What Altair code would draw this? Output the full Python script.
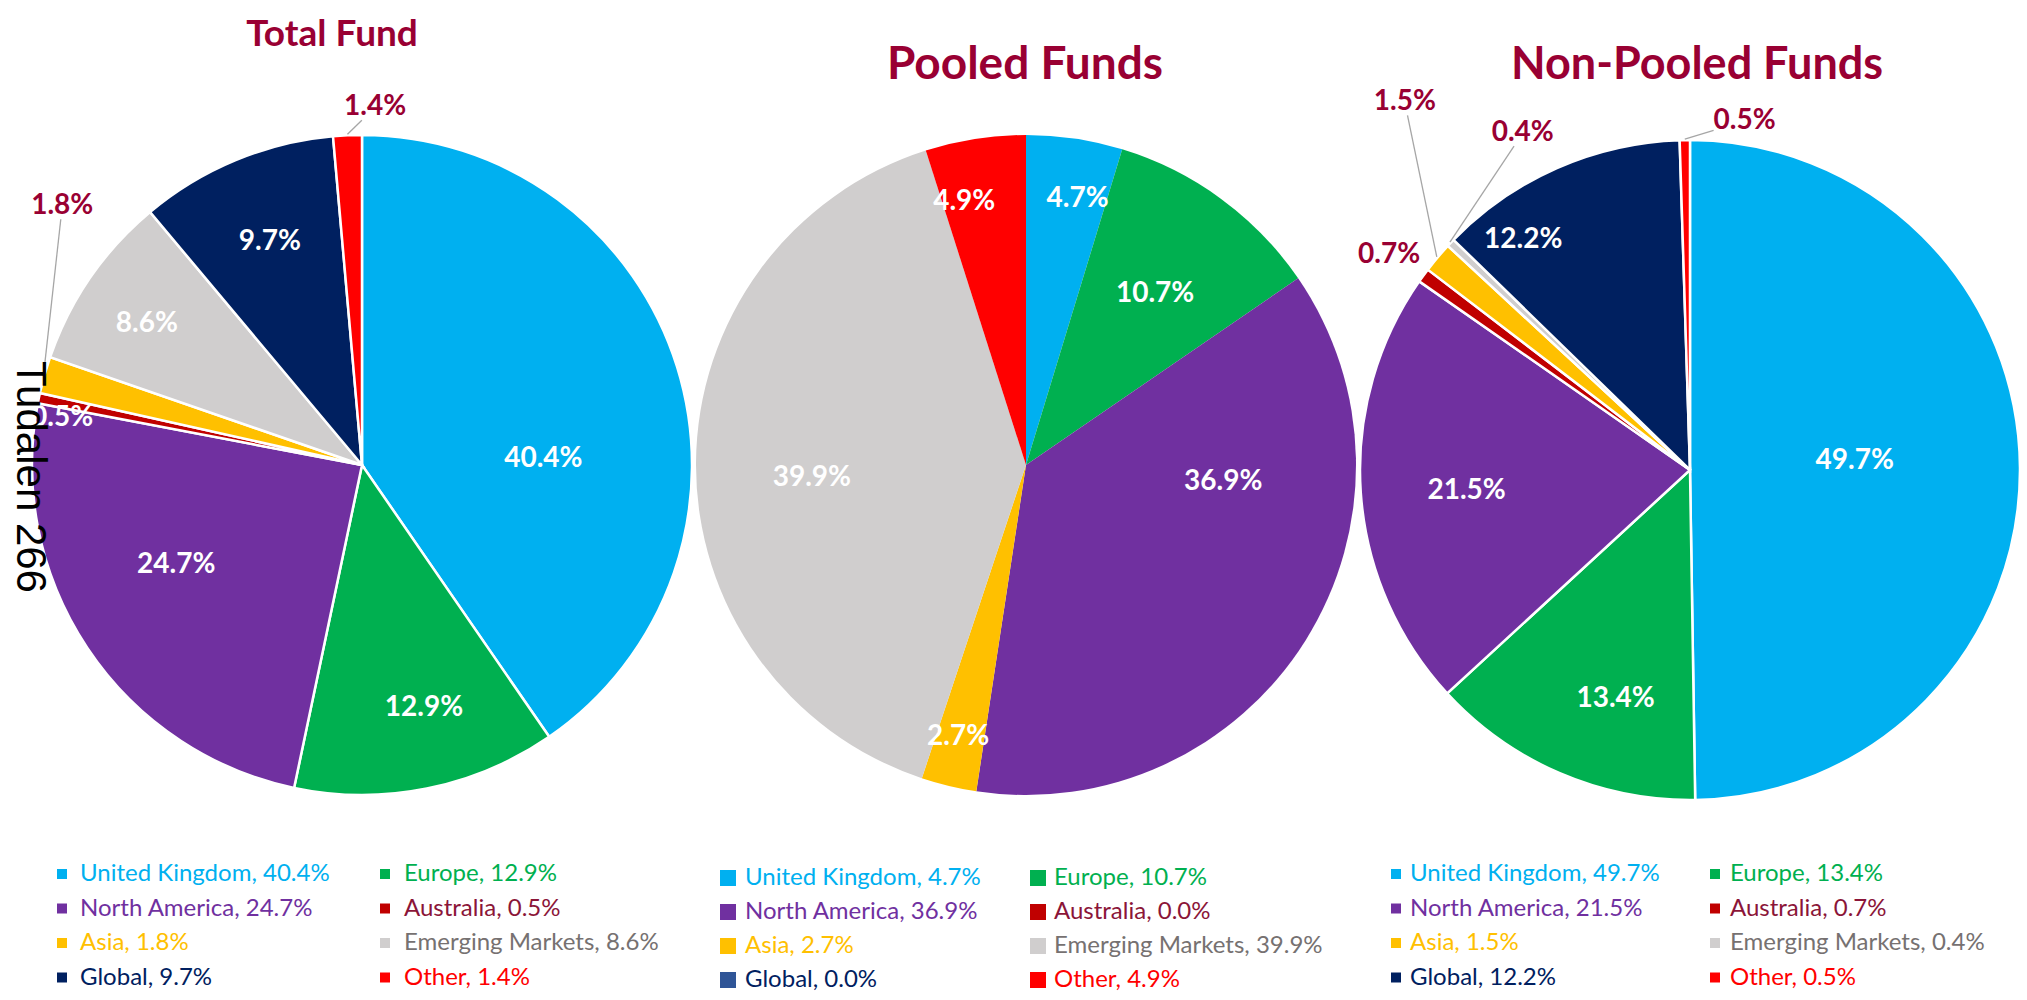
import math
import altair as alt
import pandas as pd

# ---------------- data ----------------
FUNDS = ["Total Fund", "Pooled Funds", "Non-Pooled Funds"]
REGIONS = ["United Kingdom", "Europe", "North America", "Australia",
           "Asia", "Emerging Markets", "Global", "Other"]
TOTAL_FUND = [40.4, 12.9, 24.7, 0.5, 1.8, 8.6, 9.7, 1.4]
POOLED_FUNDS = [4.7, 10.7, 36.9, 0.0, 2.7, 39.9, 0.0, 4.9]
NON_POOLED_FUNDS = [49.7, 13.4, 21.5, 0.7, 1.5, 0.4, 12.2, 0.5]
SIDE_NOTE = "Tudalen 266"

# ---------------- styles ----------------
SLICE_COLORS = ["#00B0F0", "#00B050", "#7030A0", "#C00000",
                "#FFC000", "#D0CECE", "#002060", "#FF0000"]
LEGEND_TEXT_COLORS = ["#00B0F0", "#00B050", "#7030A0", "#8B1538",
                      "#FFC000", "#767171", "#002060", "#FF0000"]
TITLE_COLOR = "#990033"
FONT = "Lato"

# ---------------- layout (page pixels) ----------------
OFF = 8
R = 330
CENTER = {"Total Fund": (362, 465), "Pooled Funds": (1026, 465),
          "Non-Pooled Funds": (1690, 470)}
TITLE_POS = {"Total Fund": (332, 35), "Pooled Funds": (1025, 65),
             "Non-Pooled Funds": (1697, 65)}
TITLE_SIZE = {"Total Fund": 37, "Pooled Funds": 46, "Non-Pooled Funds": 45}
BORDER = {"Total Fund": 2.5, "Pooled Funds": 0, "Non-Pooled Funds": 2.5}
# legend: (marker x col1, text x col1, marker x col2, text x col2, first row y, row gap, marker side)
LEGEND = {"Total Fund": (62, 80, 385, 404, 874, 34.5, 10),
          "Pooled Funds": (728, 745, 1038, 1054, 878, 34, 16),
          "Non-Pooled Funds": (1396, 1410, 1715, 1730, 874, 34.5, 10)}
# label placement: (angle deg clockwise from 12 o'clock, radius fraction, kind)
LABEL_PLACE = {
    ("Total Fund", "United Kingdom"): (88, 0.55, "in"),
    ("Total Fund", "Europe"): (165.7, 0.76, "in"),
    ("Total Fund", "North America"): (241.6, 0.64, "in"),
    ("Total Fund", "Australia"): (279, 0.92, "in"),
    ("Total Fund", "Asia"): (310.8, 1.2, "out"),
    ("Total Fund", "Emerging Markets"): (303.3, 0.78, "in"),
    ("Total Fund", "Global"): (337.5, 0.73, "in"),
    ("Total Fund", "Other"): (2.1, 1.085, "out"),
    ("Pooled Funds", "United Kingdom"): (11, 0.82, "in"),
    ("Pooled Funds", "Europe"): (37, 0.65, "in"),
    ("Pooled Funds", "North America"): (95, 0.6, "in"),
    ("Pooled Funds", "Asia"): (194, 0.85, "in"),
    ("Pooled Funds", "Emerging Markets"): (266.5, 0.65, "in"),
    ("Pooled Funds", "Other"): (346.8, 0.82, "in"),
    ("Non-Pooled Funds", "United Kingdom"): (87, 0.5, "in"),
    ("Non-Pooled Funds", "Europe"): (198, 0.73, "in"),
    ("Non-Pooled Funds", "North America"): (264.7, 0.68, "in"),
    ("Non-Pooled Funds", "Global"): (324, 0.86, "in"),
    ("Non-Pooled Funds", "Australia"): (305.5, 1.12, "out"),
    ("Non-Pooled Funds", "Asia"): (322.2, 1.41, "out"),
    ("Non-Pooled Funds", "Emerging Markets"): (333.6, 1.14, "out"),
    ("Non-Pooled Funds", "Other"): (8.9, 1.07, "out"),
}

series = dict(zip(FUNDS, [TOTAL_FUND, POOLED_FUNDS, NON_POOLED_FUNDS]))

slice_rows, label_rows, leader_rows, legend_rows, title_rows = [], [], [], [], []
for fund in FUNDS:
    vals = series[fund]
    tot = sum(vals)
    cx, cy = CENTER[fund]
    cum = 0.0
    for i, (reg, v) in enumerate(zip(REGIONS, vals)):
        start = cum / tot
        cum += v
        end = cum / tot
        mid = (start + end) / 2
        slice_rows.append(dict(fund=fund, region=reg, value=v, start=start, end=end,
                               cx=cx - OFF, cy=cy - OFF))
        if v > 0:
            if (fund, reg) in LABEL_PLACE:
                adeg, rf, kind = LABEL_PLACE[(fund, reg)]
                afrac = adeg / 360.0
            else:
                afrac = mid
                rf = 0.72
                kind = "in"
            label_rows.append(dict(fund=fund, region=reg, text=f"{v:.1f}%", kind=kind,
                                   la=afrac, lr=rf * R, cx=cx - OFF, cy=cy - OFF))
            if kind == "out":
                ang = mid * 2 * math.pi
                ex, ey = cx + (R + 1) * math.sin(ang), cy - (R + 1) * math.cos(ang)
                a2 = afrac * 2 * math.pi
                lx, ly = cx + rf * R * math.sin(a2), cy - rf * R * math.cos(a2)
                dx, dy = ex - lx, ey - ly
                dist = math.hypot(dx, dy)
                ux, uy = dx / dist, dy / dist
                t = min(31 / max(abs(ux), 1e-6), 13 / max(abs(uy), 1e-6))
                if dist - t > 20:
                    leader_rows.append(dict(x1=ex - OFF, y1=ey - OFF,
                                            x2=lx + t * ux - OFF, y2=ly + t * uy - OFF))
        mx1, tx1, mx2, tx2, y0, gap, side = LEGEND[fund]
        row, col = divmod(i, 2)
        mcol = SLICE_COLORS[i]
        if fund == "Pooled Funds" and reg == "Global":
            mcol = "#2F5597"
        legend_rows.append(dict(fund=fund, text=f"{reg}, {v:.1f}%",
                                mx=(mx1 if col == 0 else mx2) - OFF,
                                tx=(tx1 if col == 0 else tx2) - OFF,
                                y=y0 + row * gap - OFF, side=side * side,
                                mcolor=mcol, tcolor=LEGEND_TEXT_COLORS[i]))
    tx, ty = TITLE_POS[fund]
    title_rows.append(dict(text=fund, x=tx - OFF, y=ty - OFF, size=TITLE_SIZE[fund]))

slices = pd.DataFrame(slice_rows)
labels = pd.DataFrame(label_rows)
leaders = pd.DataFrame(leader_rows)
legend = pd.DataFrame(legend_rows)
titles = pd.DataFrame(title_rows)
note = pd.DataFrame([dict(text=SIDE_NOTE, x=30 - OFF, y=477 - OFF)])

THETA = alt.Scale(domain=[0, 1], range=[0, 2 * math.pi])
color_scale = alt.Scale(domain=REGIONS, range=SLICE_COLORS)

def px(f):
    return alt.X(f"{f}:Q", scale=None, axis=None)

def py(f):
    return alt.Y(f"{f}:Q", scale=None, axis=None)

arc_layers = []
for fund in FUNDS:
    m = alt.Chart(slices).transform_filter(alt.datum.fund == fund)
    if BORDER[fund] > 0:
        mk = m.mark_arc(outerRadius=R, stroke="white", strokeWidth=BORDER[fund])
    else:
        mk = m.mark_arc(outerRadius=R, strokeWidth=0)
    arc_layers.append(mk.encode(
        x=px("cx"), y=py("cy"),
        theta=alt.Theta("start:Q", scale=THETA, stack=False),
        theta2="end:Q",
        color=alt.Color("region:N", scale=color_scale, legend=None),
    ))

leader_layer = alt.Chart(leaders).mark_rule(color="#A6A6A6", strokeWidth=1.3).encode(
    x=px("x1"), y=py("y1"), x2="x2:Q", y2="y2:Q")

def label_layer(kind, color):
    return alt.Chart(labels).transform_filter(alt.datum.kind == kind).mark_text(
        font=FONT, fontWeight="bold", fontSize=28, color=color,
        align="center", baseline="middle").encode(
        x=px("cx"), y=py("cy"),
        theta=alt.Theta("la:Q", scale=THETA),
        radius=alt.Radius("lr:Q", scale=None),
        text="text:N")

in_labels = label_layer("in", "white")
out_labels = label_layer("out", TITLE_COLOR)

title_layer = alt.Chart(titles).mark_text(
    font=FONT, fontWeight="bold", color=TITLE_COLOR,
    align="center", baseline="middle").encode(
    x=px("x"), y=py("y"), text="text:N", size=alt.Size("size:Q", scale=None))

legend_markers = alt.Chart(legend).mark_square(filled=True, opacity=1).encode(
    x=px("mx"), y=py("y"), size=alt.Size("side:Q", scale=None),
    fill=alt.Fill("mcolor:N", scale=None))

legend_text = alt.Chart(legend).mark_text(
    font=FONT, fontSize=24, align="left", baseline="middle").encode(
    x=px("tx"), y=py("y"), text="text:N", fill=alt.Fill("tcolor:N", scale=None))

note_layer = alt.Chart(note).mark_text(
    font="Liberation Sans", fontSize=42, color="black", angle=90,
    align="center", baseline="middle").encode(x=px("x"), y=py("y"), text="text:N")

chart = alt.layer(
    *arc_layers, leader_layer, in_labels, out_labels, title_layer,
    legend_markers, legend_text, note_layer
).properties(
    width=2011, height=984, autosize=alt.AutoSizeParams(type="none"), padding=0,
    background="white"
).configure_view(stroke=None)

chart.save("out.html", embed_options={"renderer": "svg", "actions": False})
